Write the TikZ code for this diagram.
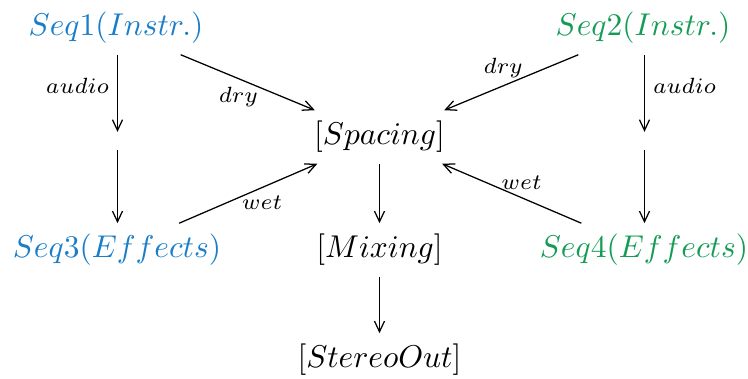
\documentclass[tikz,border=0pt]{standalone}
\usetikzlibrary{arrows.meta}
\definecolor{seqblue}{RGB}{25,125,200}
\definecolor{seqgreen}{RGB}{20,155,85}
\begin{document}
\begin{tikzpicture}[x=0.3175pt,y=-0.3175pt,
  obj/.style={inner sep=3.3pt},
  arr/.style={draw,line width=0.4pt,-{Straight Barb[length=3.4pt,width=3.2pt,line width=0.4pt]}},
  lab/.style={font=\scriptsize,inner sep=2.5pt}]
\useasboundingbox (0,0) rectangle (748,379);
% sequencer nodes
\node[obj,text=seqblue]  (s1) at (116,28)  {$Seq1(Instr.)$};
\node[obj,text=seqgreen] (s2) at (643,28)  {$Seq2(Instr.)$};
\node[obj,text=seqblue]  (s3) at (117,250) {$Seq3(Effects)$};
\node[obj,text=seqgreen] (s4) at (644,250) {$Seq4(Effects)$};
% processing chain
\node[obj] (sp) at (379.5,137) {$[Spacing]$};
\node[obj] (mx) at (379.5,250) {$[Mixing]$};
\node[obj] (so) at (379.5,360) {$[StereoOut]$};
% empty relay points on the audio paths
\node[inner sep=0pt,minimum height=17pt*0.3175] (e1) at (117.5,141) {};
\node[inner sep=0pt,minimum height=17pt*0.3175] (e2) at (644.5,141) {};
% connectors
\draw[arr] (s1.south -| e1) -- node[lab,left,pos=0.4]{$audio$} (e1.north);
\draw[arr] (e1.south) -- (s3.north -| e1);
\draw[arr] (s2.south -| e2) -- node[lab,right,pos=0.4]{$audio$} (e2.north);
\draw[arr] (e2.south) -- (s4.north -| e2);
\draw[arr] (s1) -- node[lab,below,pos=0.43]{$dry$} (sp);
\draw[arr] (s2) -- node[lab,above,pos=0.56]{$dry$} (sp);
\draw[arr] (s3) -- node[lab,below,pos=0.6]{$wet$} (sp);
\draw[arr] (s4) -- node[lab,above,pos=0.43]{$wet$} (sp);
\draw[arr] (sp) -- (mx);
\draw[arr] (mx) -- (so);
\end{tikzpicture}
\end{document}
